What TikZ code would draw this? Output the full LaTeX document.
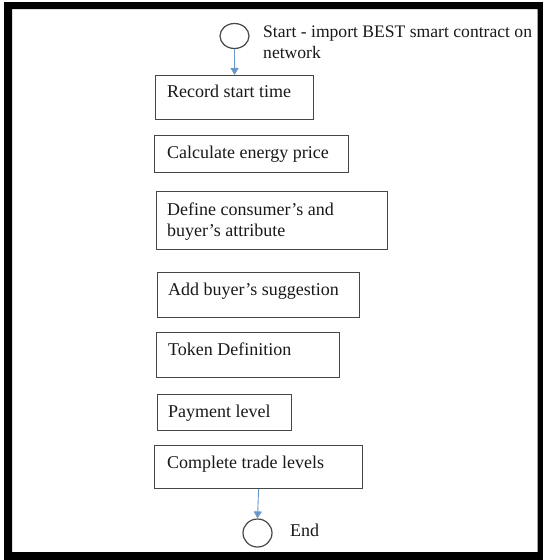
\documentclass[tikz,border=0pt]{standalone}
\usepackage{fontspec}
\setmainfont{Liberation Serif}
\usetikzlibrary{arrows.meta,shapes.geometric}
\definecolor{flowblue}{RGB}{104,152,200}
\definecolor{edgegray}{RGB}{70,70,70}
\definecolor{inkcol}{RGB}{25,25,25}

\tikzset{
  stepbox/.style={draw=edgegray, line width=1.2pt, rectangle, inner sep=0pt, anchor=north west},
  terminal/.style={draw=edgegray, line width=1.2pt, ellipse, inner sep=0pt},
  lbl/.style={anchor=base west, inner sep=0pt, text=inkcol, font=\fontsize{18}{21}\selectfont},
  note/.style={lbl, font=\fontsize{17.6}{21}\selectfont},
  flow/.style={draw=flowblue, line width=0.9pt, -{Triangle[length=7pt,width=8pt]}}
}

\begin{document}
\begin{tikzpicture}[x=1pt,y=-1pt]
  \useasboundingbox (0,0) rectangle (543,560);
  \fill[white] (0,0) rectangle (543,560);
  % thick outer frame
  \fill[black, even odd rule] (4,2) rectangle (543,560) (12,9) rectangle (537.5,552);

  % start / end terminals
  \node[terminal, minimum width=29pt, minimum height=25pt] (start) at (234.5,36) {};
  \node[terminal, minimum width=29pt, minimum height=28pt] (stop) at (257.5,533) {};
  \node[note] (startA) at (263,37) {Start - import BEST smart contract on};
  \node[note] (startB) at (263,58) {network};
  \node[lbl] (stopT) at (290,536) {End};

  % process boxes
  \node[stepbox, minimum width=158pt, minimum height=44pt] (b1) at (155,75) {};
  \node[stepbox, minimum width=194pt, minimum height=37pt] (b2) at (154,135) {};
  \node[stepbox, minimum width=231pt, minimum height=58pt] (b3) at (156,191) {};
  \node[stepbox, minimum width=202pt, minimum height=45pt] (b4) at (157,272) {};
  \node[stepbox, minimum width=183pt, minimum height=45pt] (b5) at (156,332) {};
  \node[stepbox, minimum width=134pt, minimum height=36pt] (b6) at (157,394) {};
  \node[stepbox, minimum width=208pt, minimum height=43pt] (b7) at (154,445) {};

  % box texts
  \node[lbl] (t1) at (167,97) {Record start time};
  \node[lbl] (t2) at (167,158) {Calculate energy price};
  \node[lbl] (t3a) at (167,215) {Define consumer’s and};
  \node[lbl] (t3b) at (167,236) {buyer’s attribute};
  \node[lbl] (t4) at (168,295) {Add buyer’s suggestion};
  \node[lbl] (t5) at (168,355) {Token Definition};
  \node[lbl] (t6) at (168,417) {Payment level};
  \node[lbl] (t7) at (167,468) {Complete trade levels};

  % connectors
  \draw[flow] (start.south) -- (b1.north);
  \draw[flow] (b7.south) -- (stop.north);
\end{tikzpicture}
\end{document}
